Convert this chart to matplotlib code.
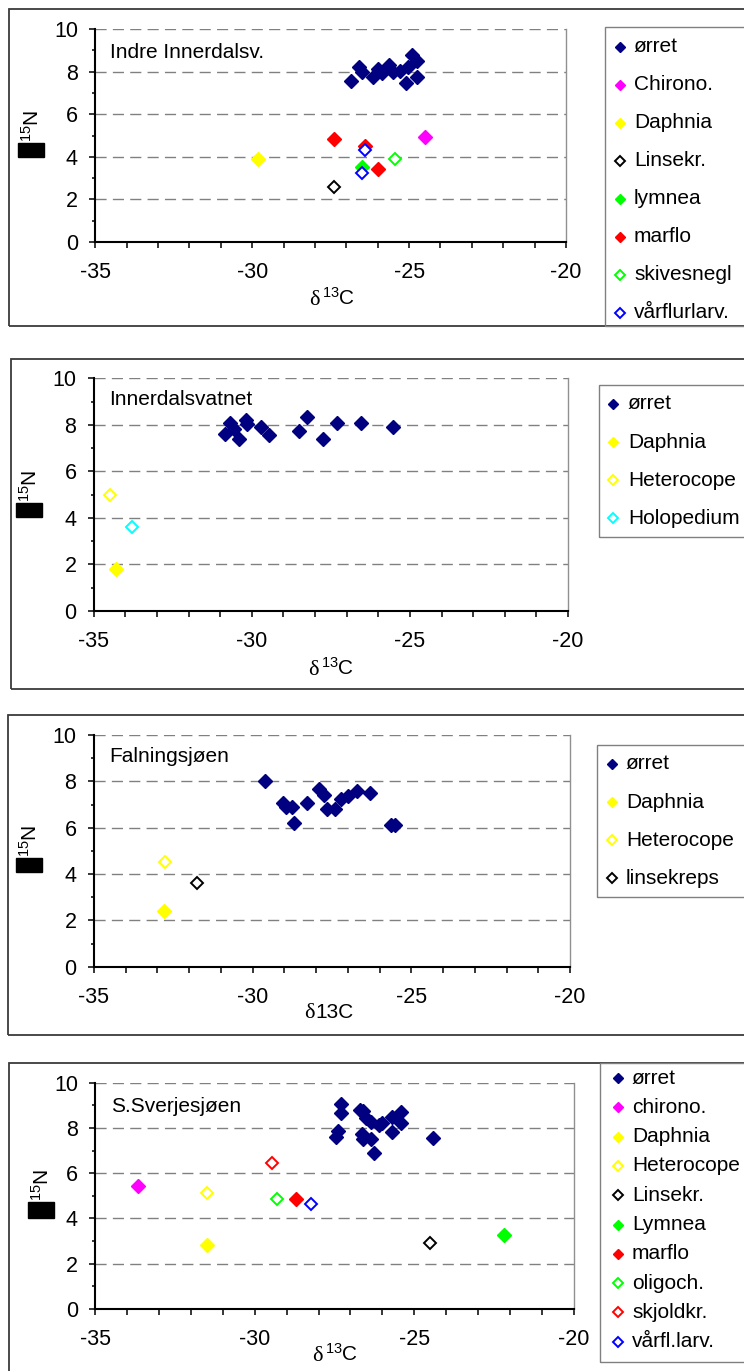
import matplotlib
matplotlib.use('Agg')
import matplotlib.pyplot as plt
from matplotlib.patches import Rectangle
from matplotlib.lines import Line2D
from matplotlib.ticker import MultipleLocator

plt.rcParams['font.family'] = ['Liberation Sans', 'DejaVu Sans']
plt.rcParams['mathtext.fontset'] = 'custom'
plt.rcParams['mathtext.rm'] = 'Liberation Sans'
plt.rcParams['axes.unicode_minus'] = False

# --- data: Indre Innerdalsv. ---
p1_species = ['ørret', 'Chirono.', 'Daphnia', 'Linsekr.', 'lymnea', 'marflo', 'skivesnegl', 'vårflurlarv.']
p1_x = [[-26.85, -26.6, -26.5, -26.15, -26.0, -25.85, -25.65, -25.5, -25.3, -25.1, -25.05, -24.9, -24.75, -24.75],
        [-24.5], [-29.8], [-27.4], [-26.5], [-27.4, -26.4, -26.0], [-25.45], [-26.4, -26.5]]
p1_y = [[7.55, 8.2, 8.0, 7.75, 8.1, 7.95, 8.3, 8.0, 8.05, 7.45, 8.2, 8.8, 8.5, 7.75],
        [4.95], [3.9], [2.6], [3.5], [4.85, 4.5, 3.45], [3.9], [4.3, 3.25]]

# --- data: Innerdalsvatnet ---
p2_species = ['ørret', 'Daphnia', 'Heterocope', 'Holopedium']
p2_x = [[-30.85, -30.7, -30.55, -30.4, -30.2, -30.15, -29.7, -29.45, -28.5, -28.25, -27.75, -27.3, -26.55, -25.55],
        [-34.3], [-34.5], [-33.8]]
p2_y = [[7.6, 8.1, 7.8, 7.4, 8.2, 8.05, 7.9, 7.55, 7.75, 8.35, 7.4, 8.1, 8.1, 7.9],
        [1.8], [5.0], [3.6]]

# --- data: Falningsjøen ---
p3_species = ['ørret', 'Daphnia', 'Heterocope', 'linsekreps']
p3_x = [[-29.6, -29.05, -28.95, -28.75, -28.7, -28.3, -27.9, -27.75, -27.65, -27.4, -27.2, -27.0, -26.7, -26.3, -25.65, -25.5],
        [-32.8], [-32.75], [-31.75]]
p3_y = [[8.0, 7.05, 6.9, 6.9, 6.2, 7.05, 7.65, 7.4, 6.8, 6.8, 7.25, 7.35, 7.6, 7.5, 6.1, 6.1],
        [2.4], [4.5], [3.6]]

# --- data: S.Sverjesjøen ---
p4_species = ['ørret', 'chirono.', 'Daphnia', 'Heterocope', 'Linsekr.', 'Lymnea', 'marflo', 'oligoch.', 'skjoldkr.', 'vårfl.larv.']
p4_x = [[-27.3, -27.3, -27.4, -27.45, -26.7, -26.6, -26.5, -26.35, -26.65, -26.6, -26.35, -26.25, -26.1, -26.0, -25.7, -25.4, -25.4, -25.7, -24.4],
        [-33.65], [-31.5], [-31.5], [-24.5], [-22.2], [-28.7], [-29.3], [-29.45], [-28.25]]
p4_y = [[9.05, 8.65, 7.85, 7.6, 8.8, 8.75, 8.45, 8.25, 7.75, 7.5, 7.5, 6.9, 8.15, 8.2, 8.5, 8.7, 8.2, 7.8, 7.55],
        [5.45], [2.8], [5.1], [2.9], [3.25], [4.85], [4.85], [6.45], [4.65]]

# styles (colour, filled)
NAVY, MAG, YEL, BLK, LIME, RED, BLUE, CYAN = '#000080', '#ff00ff', '#ffff00', '#000000', '#00ff00', '#ff0000', '#0000ff', '#00ffff'
p1_style = [(NAVY, True), (MAG, True), (YEL, True), (BLK, False), (LIME, True), (RED, True), (LIME, False), (BLUE, False)]
p2_style = [(NAVY, True), (YEL, True), (YEL, False), (CYAN, False)]
p3_style = [(NAVY, True), (YEL, True), (YEL, False), (BLK, False)]
p4_style = [(NAVY, True), (MAG, True), (YEL, True), (YEL, False), (BLK, False), (LIME, True),
            (RED, True), (LIME, False), (RED, False), (BLUE, False)]

W, H = 744, 1371
fig = plt.figure(figsize=(W / 100, H / 100), dpi=100)


def fx(x):
    return x / W


def fy(y):
    return 1 - y / H


def box(left, top, right, bottom, color, lw):
    fig.add_artist(Rectangle((fx(left), fy(bottom)), (right - left) / W, (bottom - top) / H,
                             fill=False, edgecolor=color, lw=lw, transform=fig.transFigure, clip_on=False))


def marker_kw(color, filled, big=True):
    if filled:
        return dict(marker='D', ms=7.0 if big else 5.4, mfc=color, mec=color, mew=1, ls='none')
    return dict(marker='D', ms=6.0 if big else 4.8, mfc='white', mec=color, mew=1.4, ls='none')


def panel(frame, axbox, species, xs, ys, styles, title, title_pos, leg, leg_rows, ylab, xlab, sup=True):
    box(frame[0], frame[1], 760, frame[2], '#3a3a3a', 1.3)
    l, t, r, b = axbox
    ax = fig.add_axes([fx(l), fy(b), (r - l) / W, (b - t) / H])
    for sx, sy, (c, f) in zip(xs, ys, styles):
        ax.plot(sx, sy, **marker_kw(c, f), clip_on=False, zorder=3)
    ax.set_xlim(-35, -20)
    ax.set_ylim(0, 10)
    ax.xaxis.set_major_locator(MultipleLocator(5))
    ax.xaxis.set_minor_locator(MultipleLocator(1))
    ax.yaxis.set_major_locator(MultipleLocator(2))
    ax.yaxis.set_minor_locator(MultipleLocator(1))
    ax.tick_params(which='both', direction='out', color='black', width=1.1, labelsize=15.5)
    ax.tick_params(axis='x', which='both', length=4.5, pad=10)
    ax.tick_params(axis='y', which='major', length=4.5, pad=8)
    ax.tick_params(axis='y', which='minor', length=2.5)
    ax.yaxis.grid(True, which='major', color='#808080', ls=(0, (8, 4.5)), lw=1)
    ax.set_axisbelow(True)
    ax.spines['top'].set_visible(False)
    ax.spines['right'].set_color('#909090')
    ax.spines['right'].set_linewidth(1)
    for s in ('left', 'bottom'):
        ax.spines[s].set_linewidth(1.5)
        ax.spines[s].set_color('black')
    fig.text(fx(title_pos[0]), fy(title_pos[1]), title, va='center', ha='left', fontsize=15)

    # legend
    box(leg[0], leg[1], 760, leg[2], '#808080', 1)
    mx, tx, y0, dy = leg_rows
    for i, (name, (c, f)) in enumerate(zip(species, styles)):
        yy = y0 + i * dy
        fig.add_artist(Line2D([fx(mx)], [fy(yy)], transform=fig.transFigure, **marker_kw(c, f, big=False)))
        fig.text(fx(tx), fy(yy), name, va='center', ha='left', fontsize=15)

    # y label: missing-glyph block + 15N
    bx0, by0, bx1, by1, ncx = ylab
    fig.add_artist(Rectangle((fx(bx0), fy(by1)), (bx1 - bx0) / W, (by1 - by0) / H,
                             color='black', transform=fig.transFigure))
    fig.text(fx(ncx), fy(by0 - 1), r'$\mathregular{^{15}}$N', rotation=90, ha='center', va='bottom', fontsize=15)

    # x label
    dx, rx, base = xlab
    fig.text(fx(dx), fy(base), 'δ', family='Liberation Serif', fontsize=16, va='baseline', ha='left')
    fig.text(fx(rx), fy(base), r'$\mathregular{^{13}}$C' if sup else '13C', fontsize=15, va='baseline', ha='left')
    return ax


panel((9, 9, 326), (95.3, 29, 566, 242), p1_species, p1_x, p1_y, p1_style,
      'Indre Innerdalsv.', (110, 52), (605, 27, 326), (620, 634, 47, 38),
      (18, 143, 44, 157, 32), (309, 322, 305))
panel((11, 359, 689), (93.8, 378.3, 568, 611), p2_species, p2_x, p2_y, p2_style,
      'Innerdalsvatnet', (109, 399), (599, 385, 537), (613, 628, 404, 38),
      (16, 503, 42, 517, 30), (308, 321, 675))
panel((8, 715, 1035), (93.8, 735, 570, 966.7), p3_species, p3_x, p3_y, p3_style,
      'Falningsjøen', (109, 757), (597, 745, 897), (612, 626, 764, 38),
      (16, 858, 42, 872, 30), (304, 315, 1018), sup=False)
panel((9, 1063, 1380), (95.3, 1082.7, 573.7, 1308.7), p4_species, p4_x, p4_y, p4_style,
      'S.Sverjesjøen', (111, 1107), (600, 1063, 1362), (618, 632, 1078, 29.3),
      (28, 1202, 54, 1218, 42), (312, 325, 1361))

fig.savefig('out.png', dpi=100)
